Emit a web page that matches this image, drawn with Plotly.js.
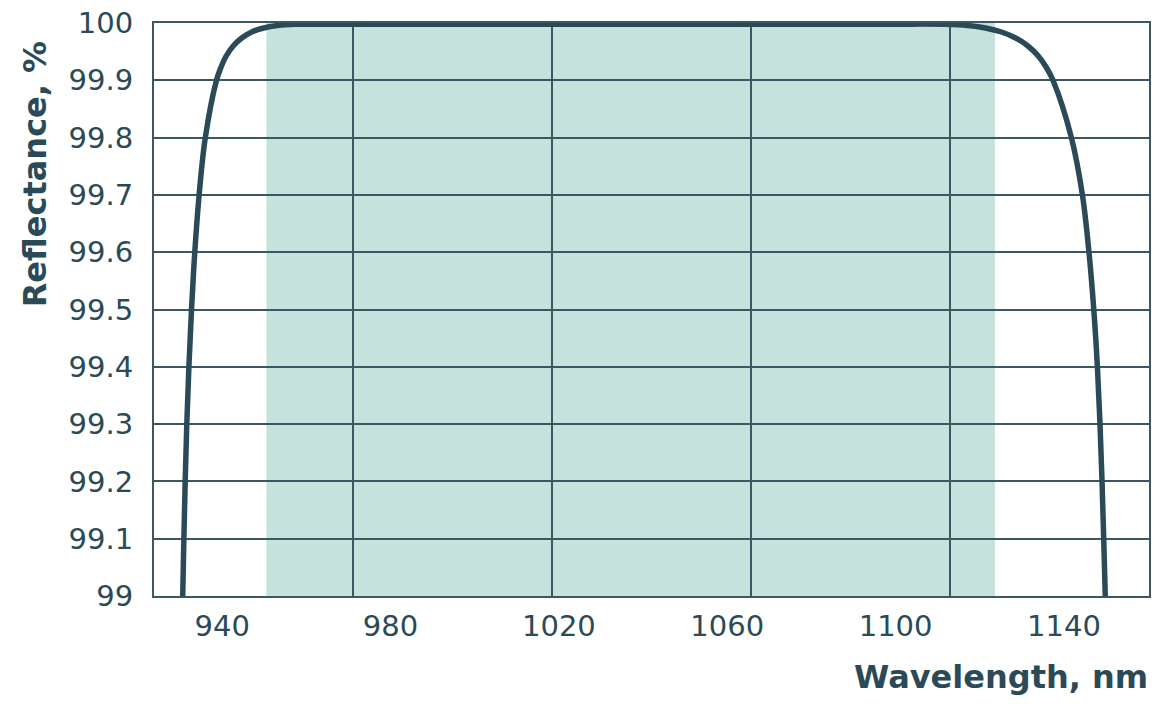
<!DOCTYPE html>
<html>
<head>
<meta charset="utf-8">
<script src="https://cdn.plot.ly/plotly-3.0.1.min.js"></script>
<style>
  html, body { margin: 0; padding: 0; background: #ffffff; }
  #chart { width: 1170px; height: 704px; }
</style>
</head>
<body>
<div id="chart"></div>
<script>
// ---- data ----
const wavelength = [
  930.62, 930.90, 931.21, 931.59, 932.09, 932.71, 933.49, 934.52, 935.99, 938.65,
  939.65, 940.95, 942.62, 944.64, 947.01, 949.86, 953.19, 957.47, 965,
  980, 1000, 1020, 1040, 1060, 1080, 1100, 1111.68, 1117.12, 1121.35,
  1125.15, 1128.51, 1131.43, 1133.90, 1135.89, 1137.39, 1141.76, 1144.38, 1145.94,
  1147.08, 1147.94, 1148.56, 1149.04, 1149.44, 1149.81
];
const reflectance = [
  99.0, 99.1, 99.2, 99.3, 99.4, 99.5, 99.6, 99.7, 99.8, 99.9,
  99.9215, 99.9424, 99.9599, 99.9738, 99.9843, 99.9913, 99.9956, 99.9977, 99.998,
  99.998, 99.998, 99.998, 99.998, 99.998, 99.998, 99.998, 99.9977, 99.9956, 99.9913,
  99.9843, 99.9738, 99.9599, 99.9424, 99.9215, 99.9, 99.8, 99.7, 99.6,
  99.5, 99.4, 99.3, 99.2, 99.1, 99.0
];
const bandRange = [950.5, 1123.6];
const xRange = [923.8, 1160.2];
const xTickVals = [940, 980, 1020, 1060, 1100, 1140];
const yTickVals = [99, 99.1, 99.2, 99.3, 99.4, 99.5, 99.6, 99.7, 99.8, 99.9, 100];
const yTickText = ['99', '99.1', '99.2', '99.3', '99.4', '99.5', '99.6', '99.7', '99.8', '99.9', '100'];
const xTitle = 'Wavelength, nm';
const yTitle = 'Reflectance, %';

// ---- style ----
const ink = '#2b4a57';
const gridCol = '#3a5762';
const bandCol = '#c6e2dd';
const font = '"DejaVu Sans", sans-serif';
const xGridCount = 5;

const traces = [
  {
    x: wavelength, y: reflectance, type: 'scatter', mode: 'lines',
    line: { color: ink, width: 5.5, shape: 'spline', smoothing: 1 },
    xaxis: 'x', yaxis: 'y', hoverinfo: 'x+y', showlegend: false
  },
  { x: [], y: [], type: 'scatter', mode: 'lines', xaxis: 'x2', yaxis: 'y', showlegend: false, hoverinfo: 'skip' }
];

const layout = {
  width: 1170, height: 704,
  margin: { l: 154, r: 21, t: 23, b: 108 },
  paper_bgcolor: '#ffffff', plot_bgcolor: '#ffffff',
  font: { family: font, color: ink, size: 29 },
  showlegend: false,
  xaxis: {
    range: xRange, autorange: false,
    tick0: xRange[0], dtick: (xRange[1] - xRange[0]) / xGridCount,
    showticklabels: false, ticks: '',
    showgrid: true, gridcolor: gridCol, gridwidth: 2,
    showline: true, linecolor: gridCol, linewidth: 2, mirror: true,
    zeroline: false, fixedrange: true
  },
  xaxis2: {
    overlaying: 'x', side: 'bottom', anchor: 'y',
    range: xRange, autorange: false,
    tickmode: 'array', tickvals: xTickVals,
    ticks: '', ticklabelstandoff: 10,
    tickfont: { family: font, size: 29, color: ink },
    showgrid: false, showline: false, zeroline: false, fixedrange: true
  },
  yaxis: {
    range: [99, 100], autorange: false,
    tickmode: 'array', tickvals: yTickVals, ticktext: yTickText,
    ticks: '', ticklabelstandoff: 13,
    tickfont: { family: font, size: 29, color: ink },
    showgrid: true, gridcolor: gridCol, gridwidth: 2,
    showline: true, linecolor: gridCol, linewidth: 2, mirror: true,
    zeroline: false, fixedrange: true
  },
  shapes: [
    {
      type: 'rect', layer: 'below', xref: 'x', yref: 'y domain',
      x0: bandRange[0], x1: bandRange[1], y0: 0, y1: 1,
      fillcolor: bandCol, line: { width: 0 }
    }
  ],
  annotations: [
    {
      text: '<b>' + xTitle + '</b>', xref: 'paper', yref: 'paper',
      x: 1.001, y: -0.1414, xanchor: 'right', yanchor: 'middle', showarrow: false,
      font: { family: font, size: 32, color: ink }
    },
    {
      text: '<b>' + yTitle + '</b>', xref: 'paper', yref: 'paper',
      x: -0.1196, y: 0.736, xanchor: 'center', yanchor: 'middle', showarrow: false,
      textangle: -90,
      font: { family: font, size: 32, color: ink }
    }
  ]
};

Plotly.newPlot('chart', traces, layout, { displayModeBar: false, staticPlot: true });
</script>
</body>
</html>
